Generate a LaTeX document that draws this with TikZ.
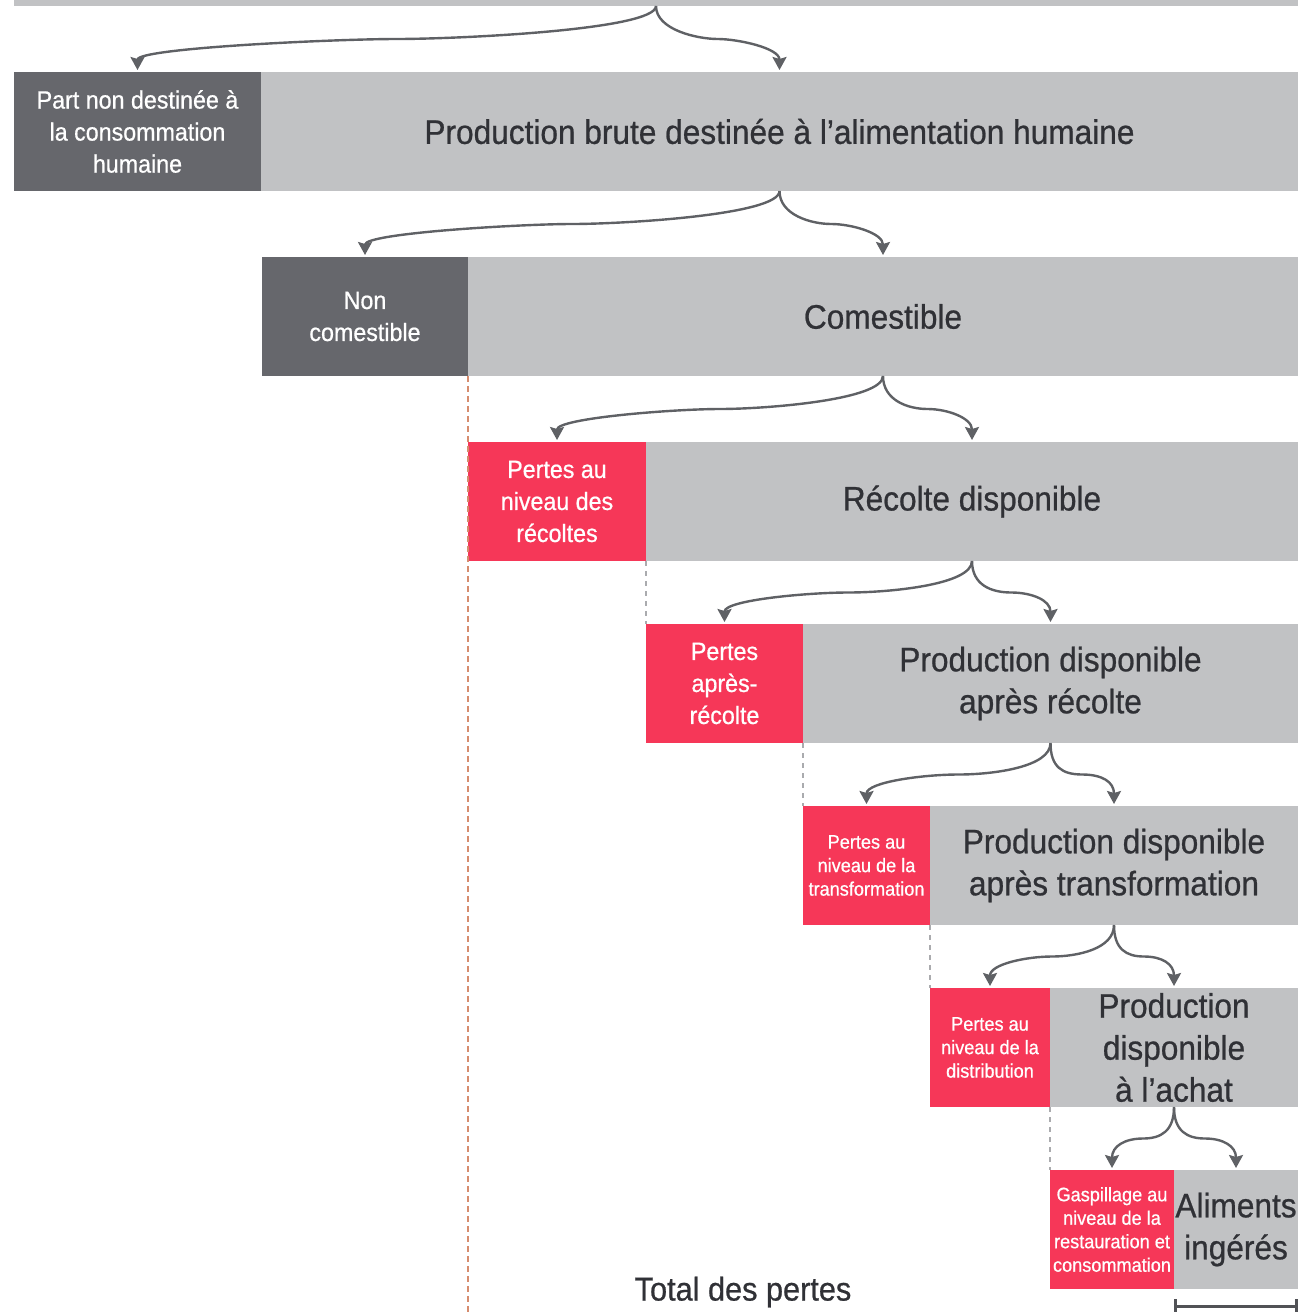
\documentclass[tikz,border=0pt]{standalone}
\usepackage{fontspec}
\setmainfont[FakeStretch=0.93,FakeBold=0.7]{Liberation Sans}
\usetikzlibrary{arrows.meta,calc}
\definecolor{lgray}{RGB}{193,194,196}
\definecolor{dgray}{RGB}{102,103,108}
\definecolor{lred}{RGB}{246,55,88}
\definecolor{arrgray}{RGB}{95,97,101}
\definecolor{txt}{RGB}{48,49,54}
\definecolor{orangedash}{RGB}{214,140,110}
\definecolor{graydash}{RGB}{170,171,174}
\tikzset{
  box/.style={rectangle, inner sep=0pt, outer sep=0pt, anchor=north west, align=center, minimum height=119pt},
  light/.style={box, fill=lgray, text=txt, font=\fontsize{34}{42}\selectfont},
  dark/.style={box, fill=dgray, text=white, font=\fontsize{25}{32}\selectfont},
  loss/.style={box, fill=lred, text=white, font=\fontsize{25}{32}\selectfont},
  lossS/.style={loss, font=\fontsize{19.5}{23.5}\selectfont},
  flow/.style={draw=arrgray, line width=2.4pt, -{Stealth[length=13pt,width=14pt,inset=2pt]}, shorten >=2pt},
  odash/.style={draw=orangedash, line width=2pt, dash pattern=on 6pt off 4pt},
  gdash/.style={draw=graydash, line width=1.5pt, dash pattern=on 5pt off 5pt},
  brk/.style={draw=arrgray!85!black, line width=3pt}
}
\newcommand{\branch}[4]{\draw[flow] (#1.south) .. controls +(0,24) and +(#3,0) .. ($(#1.south)!0.5!(#2.north)$) .. controls +(#4,0) and +(0,-24) .. (#2.north);}
\begin{document}
\begin{tikzpicture}[x=1pt,y=-1pt]
\useasboundingbox (0,0) rectangle (1300,1312);
% top bar
\node[box, fill=lgray, minimum width=1284pt, minimum height=6pt] (top) at (14,0) {};
% row 1
\node[dark, minimum width=247pt] (d1) at (14,72) {Part non destinée à\\la consommation\\humaine};
\node[light, minimum width=1037pt] (l1) at (261,72) {Production brute destinée à l'alimentation humaine};
% row 2
\node[dark, minimum width=206pt] (d2) at (262,257) {Non\\comestible};
\node[light, minimum width=830pt] (l2) at (468,257) {Comestible};
% row 3
\node[loss, minimum width=178pt] (x3) at (468,442) {Pertes au\\niveau des\\récoltes};
\node[light, minimum width=652pt] (l3) at (646,442) {Récolte disponible};
% row 4
\node[loss, minimum width=157pt] (x4) at (646,624) {Pertes\\après-\\récolte};
\node[light, minimum width=495pt] (l4) at (803,624) {Production disponible\\après récolte};
% row 5
\node[lossS, minimum width=127pt] (x5) at (803,806) {Pertes au\\niveau de la\\transformation};
\node[light, minimum width=368pt] (l5) at (930,806) {Production disponible\\après transformation};
% row 6
\node[lossS, minimum width=120pt] (x6) at (930,988) {Pertes au\\niveau de la\\distribution};
\node[light, minimum width=248pt] (l6) at (1050,988) {Production\\disponible\\à l'achat};
% row 7
\node[lossS, minimum width=124pt] (x7) at (1050,1170) {Gaspillage au\\niveau de la\\restauration et\\consommation};
\node[light, minimum width=124pt] (l7) at (1174,1170) {Aliments\\ingérés};
% arrows
\branch{top}{d1}{60}{-60}
\branch{top}{l1}{-20}{20}
\branch{l1}{d2}{50}{-50}
\branch{l1}{l2}{-20}{20}
\branch{l2}{x3}{45}{-45}
\branch{l2}{l3}{-20}{20}
\branch{l3}{x4}{40}{-40}
\branch{l3}{l4}{-20}{20}
\branch{l4}{x5}{35}{-35}
\branch{l4}{l5}{-20}{20}
\branch{l5}{x6}{25}{-25}
\branch{l5}{l6}{-18}{18}
\branch{l6}{x7}{18}{-18}
\branch{l6}{l7}{-18}{18}
% dashed guides
\coordinate (obot) at (468,1312);
\draw[odash] (d2.south east) -- (obot);
\draw[gdash] (x3.south east) -- (x4.north west);
\draw[gdash] (x4.south east) -- (x5.north west);
\draw[gdash] (x5.south east) -- (x6.north west);
\draw[gdash] (x6.south east) -- (x7.north west);
% total
\node[font=\fontsize{33}{38}\selectfont, text=txt, inner sep=0pt] (tot) at (743,1292) {Total des pertes};
% bracket
\coordinate (bl) at (1175,1306);
\coordinate (br) at (1296,1306);
\draw[brk] (bl) -- (br);
\draw[brk] ($(bl)+(0,-7)$) -- ($(bl)+(0,8)$);
\draw[brk] ($(br)+(0,-7)$) -- ($(br)+(0,8)$);
\end{tikzpicture}
\end{document}
